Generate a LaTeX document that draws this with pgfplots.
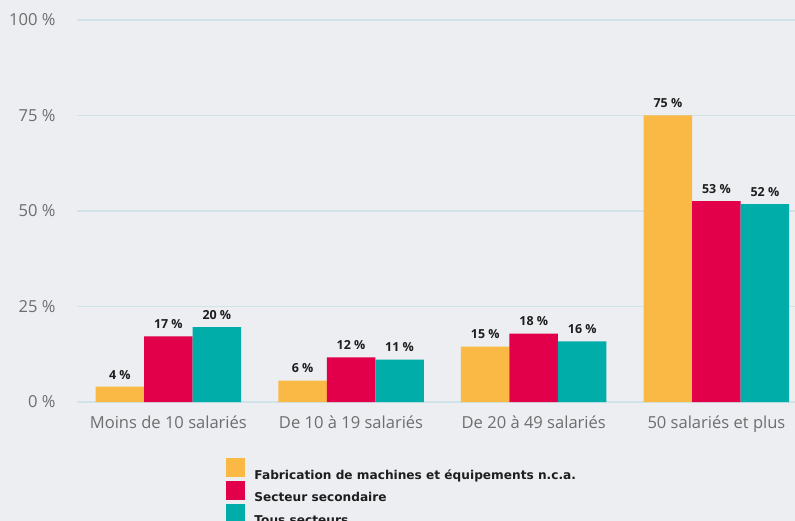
\documentclass[border=0pt]{standalone}
\usepackage{fontspec}
\setmainfont{Open Sans}
\newfontfamily\legfont{DejaVu Sans}
\usepackage{pgfplots}
\pgfplotsset{compat=1.18}
\definecolor{bgc}{HTML}{ECEEF1}
\definecolor{gridc}{HTML}{CFE3E8}
\definecolor{corange}{HTML}{F9B944}
\definecolor{cred}{HTML}{E2004A}
\definecolor{cteal}{HTML}{00ADA9}
\definecolor{tickc}{HTML}{6E6E6E}
\definecolor{txtc}{HTML}{1E1E1E}
\pgfplotstableread{
x fab sec tous
0 4.0 17.2 19.6
1 5.6 11.7 11.1
2 14.5 17.9 15.9
3 75.0 52.6 51.8
}\datatable
\begin{document}
\begin{tikzpicture}
\fill[bgc] (0,0) rectangle (795bp,521bp);
\begin{axis}[
  at={(77bp,119bp)}, anchor=south west,
  scale only axis, width=718bp, height=382bp,
  ybar=0pt, bar width=48.5bp,
  xmin=-0.5, xmax=3.43, ymin=0, ymax=100,
  xtick={0,1,2,3},
  xticklabels={Moins de 10 salariés, De 10 à 19 salariés, De 20 à 49 salariés, 50 salariés et plus},
  ytick={0,25,50,75,100},
  yticklabels={0 \%,25 \%,50 \%,75 \%,100 \%},
  ymajorgrids, grid style={color=gridc, line width=1.2bp},
  axis line style={draw=none}, major tick length=0pt,
  tick label style={color=tickc, font=\fontsize{16.6}{18}\selectfont},
  yticklabel style={xshift=-18bp},
  xticklabel style={yshift=-10bp},
  /pgf/number format/assume math mode=true,
  nodes near coords={\pgfmathprintnumber[fixed,precision=0,assume math mode=true]{\pgfplotspointmeta}~\%},
  every node near coord/.append style={font=\bfseries\fontsize{12.5}{13}\selectfont, color=txtc, anchor=south, yshift=4bp},
  legend style={at={(0.2075,-0.1466)}, anchor=north west, draw=none, fill=none,
    inner sep=0pt, outer sep=0pt, row sep=0.5bp, nodes={inner sep=0pt},
    font=\legfont\bfseries\fontsize{12.2}{14}\selectfont, text=txtc},
  legend cell align=left,
  legend image code/.code={\fill[#1, draw=none] (0bp,-2bp) rectangle (19bp,17bp);},
  every axis legend/.append style={/tikz/every odd column/.append style={column sep=9.5bp}},
]
\addplot[fill=corange, draw=none] table[x=x, y=fab] {\datatable};
\addlegendentry{Fabrication de machines et équipements n.c.a.}
\addplot[fill=cred, draw=none] table[x=x, y=sec] {\datatable};
\addlegendentry{Secteur secondaire}
\addplot[fill=cteal, draw=none] table[x=x, y=tous] {\datatable};
\addlegendentry{Tous secteurs}
\end{axis}
\pgfresetboundingbox
\path[use as bounding box] (0,0) rectangle (795bp,521bp);
\end{tikzpicture}
\end{document}
